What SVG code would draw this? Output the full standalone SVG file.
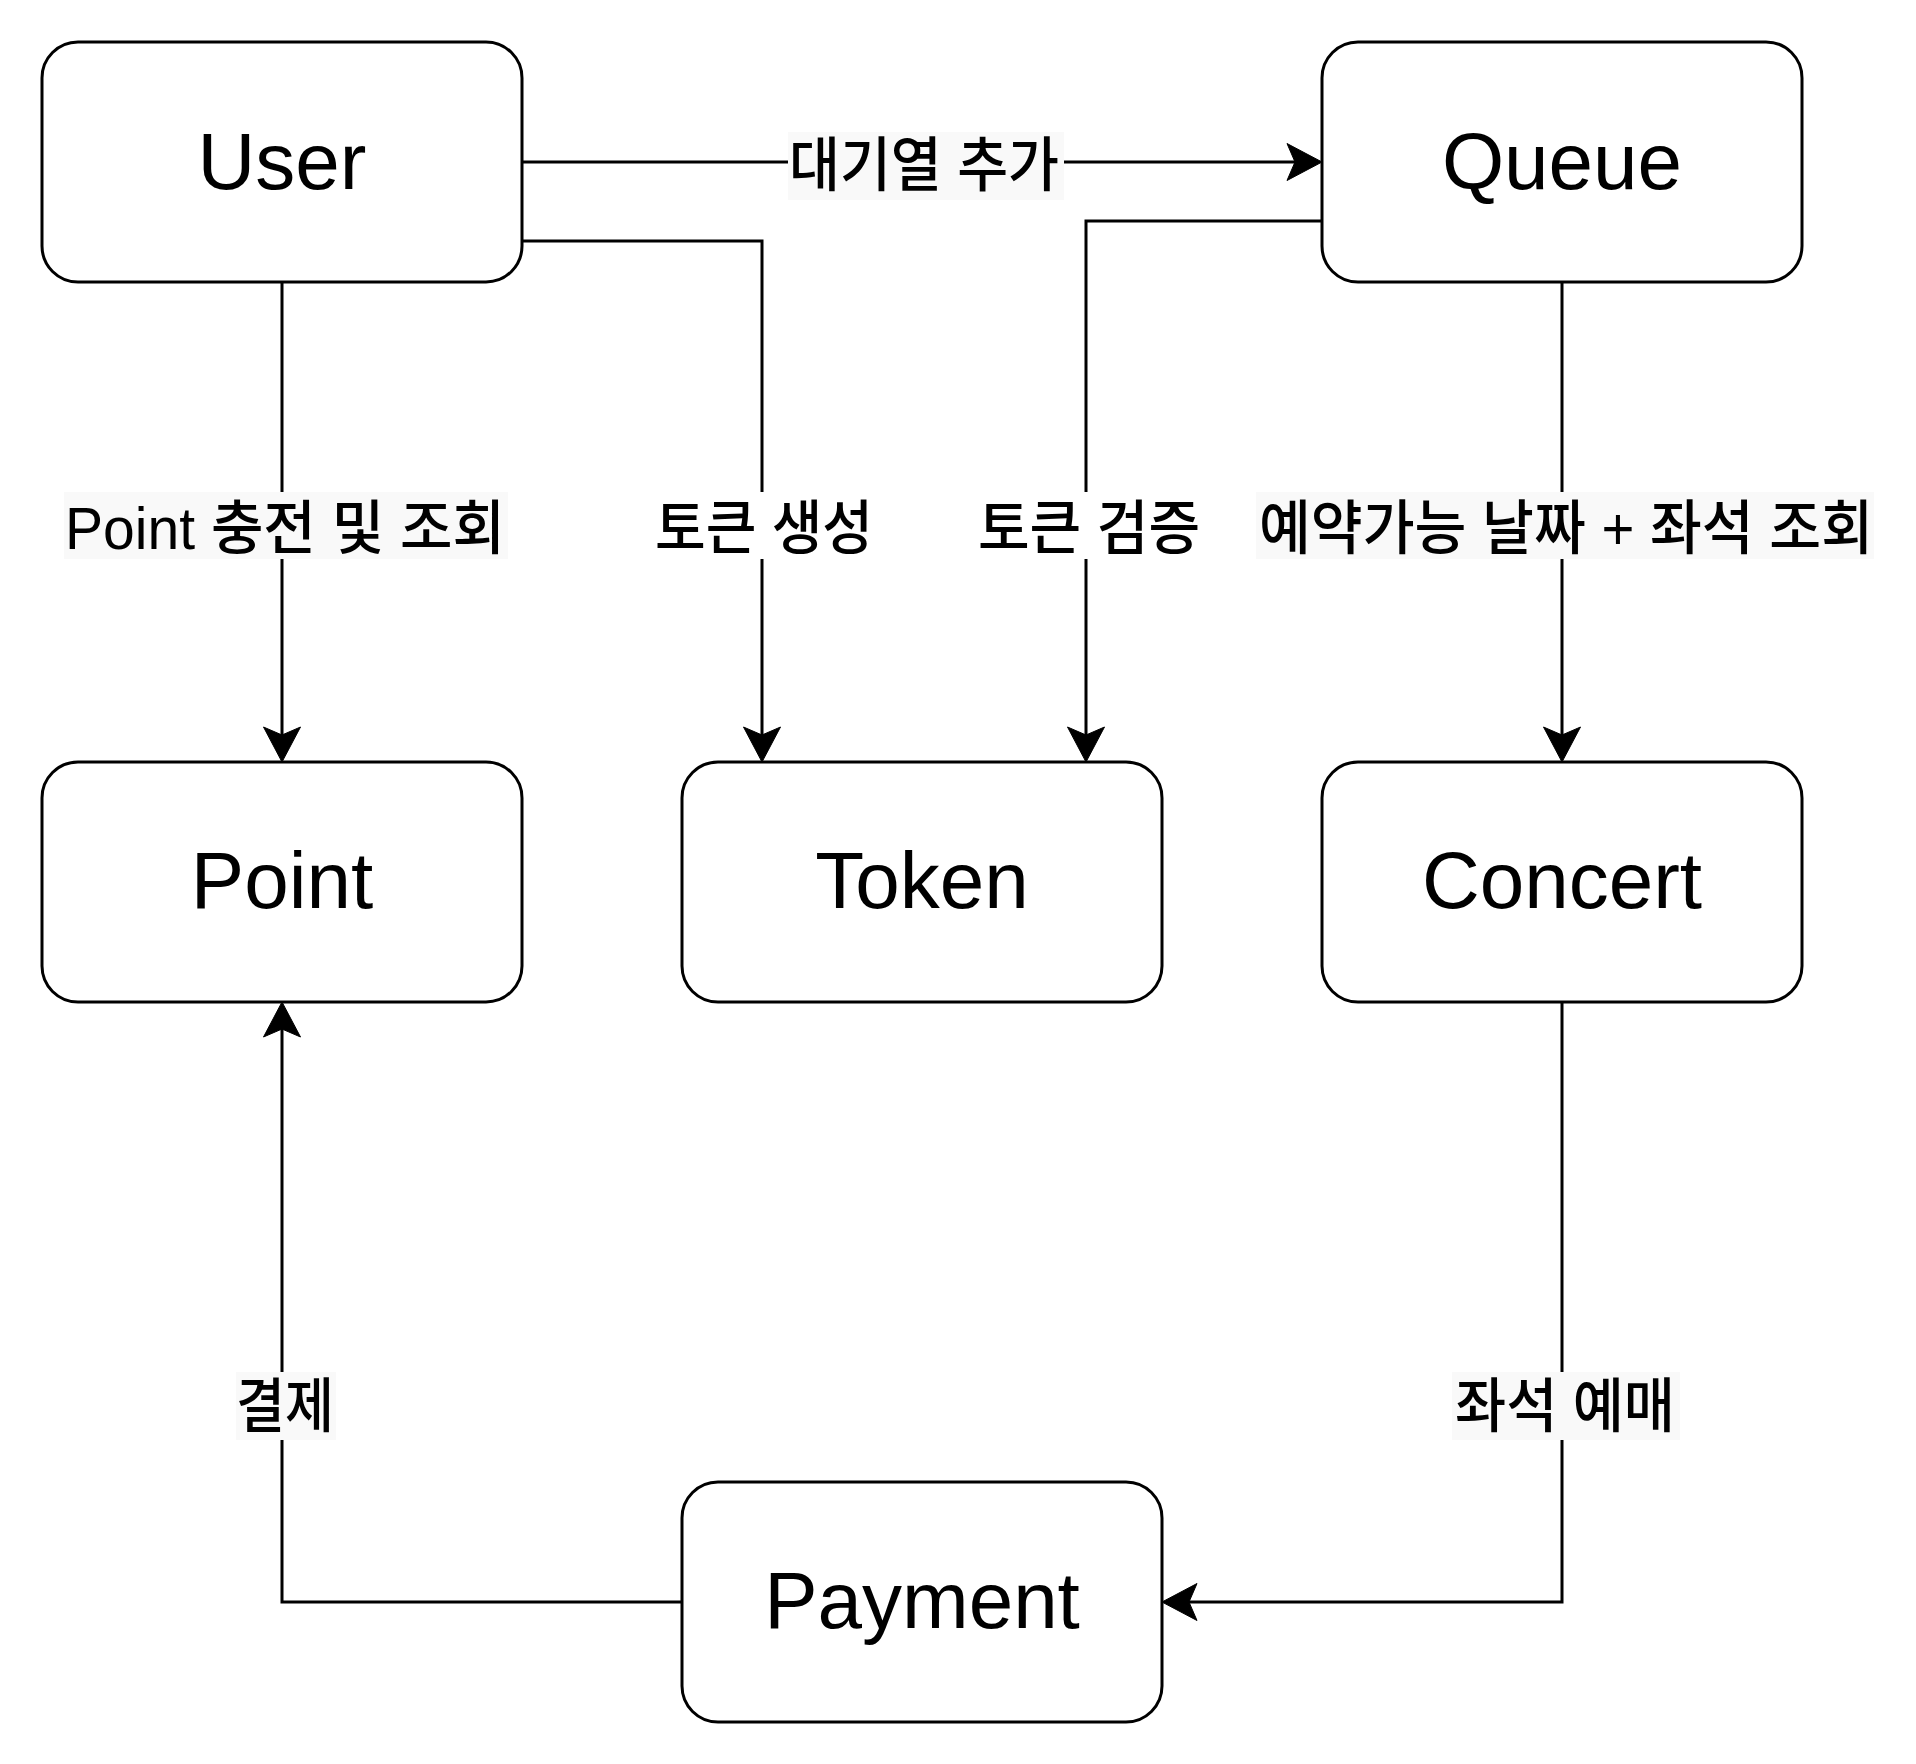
<svg xmlns="http://www.w3.org/2000/svg" width="1916" height="1764" viewBox="0 0 1916 1764">
<style>
.box{fill:#ffffff;stroke:#000000;stroke-width:3}
.ntxt{font-family:"Liberation Sans",Arial,Helvetica,sans-serif;font-size:80px;fill:#000000;text-anchor:middle}
.edge{fill:none;stroke:#000000;stroke-width:3}
.lbg{fill:#f9f9f9;stroke:none}
.lbgw{fill:#ffffff;stroke:none}
.ltxt{font-family:"Liberation Sans","Noto Sans CJK KR",sans-serif;font-size:59px;font-weight:500;fill:#000000;text-anchor:middle}
</style>
<defs>
<marker id="arrow" markerUnits="userSpaceOnUse" viewBox="-36 -20 38 40" refX="-20" refY="0" markerWidth="38" markerHeight="40" orient="auto" overflow="visible">
<path d="M0,0 L-35,-18.5 L-27,0 L-35,18.5 Z" fill="#000000" stroke="#000000" stroke-width="1"/>
</marker>
</defs>
<rect width="1916" height="1764" fill="#ffffff"/>
<g id="connectors">
<path class="edge" d="M522,162 H1302" marker-end="url(#arrow)"/>
<path class="edge" d="M522,241 H762 V742" marker-end="url(#arrow)"/>
<path class="edge" d="M282,282 V742" marker-end="url(#arrow)"/>
<path class="edge" d="M1322,221 H1086 V742" marker-end="url(#arrow)"/>
<path class="edge" d="M1562,282 V742" marker-end="url(#arrow)"/>
<path class="edge" d="M1562,1002 V1602 H1182" marker-end="url(#arrow)"/>
<path class="edge" d="M682,1602 H282 V1022" marker-end="url(#arrow)"/>
<g id="edge-labels">
<rect class="lbg" x="788" y="132" width="276" height="68"/>
<text class="ltxt" x="924" y="186" textLength="270" lengthAdjust="spacingAndGlyphs">대기열 추가</text>
<rect class="lbg" x="64" y="492" width="444" height="67"/>
<text class="ltxt" x="285" y="549" textLength="440" lengthAdjust="spacingAndGlyphs">Point 충전 및 조회</text>
<rect class="lbgw" x="654" y="492" width="219" height="67"/>
<text class="ltxt" x="764" y="549" textLength="218" lengthAdjust="spacingAndGlyphs">토큰 생성</text>
<rect class="lbgw" x="977" y="492" width="224" height="67"/>
<text class="ltxt" x="1089" y="549" textLength="222" lengthAdjust="spacingAndGlyphs">토큰 검증</text>
<rect class="lbg" x="1256" y="492" width="618" height="67"/>
<text class="ltxt" x="1566" y="549" textLength="614" lengthAdjust="spacingAndGlyphs">예약가능 날짜 + 좌석 조회</text>
<rect class="lbg" x="236" y="1372" width="100" height="68"/>
<text class="ltxt" x="285" y="1427" textLength="98" lengthAdjust="spacingAndGlyphs">결제</text>
<rect class="lbg" x="1452" y="1372" width="228" height="68"/>
<text class="ltxt" x="1565" y="1427" textLength="220" lengthAdjust="spacingAndGlyphs">좌석 예매</text>
</g>
</g>
<g id="node-user">
<rect class="box" x="42" y="42" width="480" height="240" rx="36" ry="36"/>
<text class="ntxt" x="282" y="189">User</text>
</g>
<g id="node-queue">
<rect class="box" x="1322" y="42" width="480" height="240" rx="36" ry="36"/>
<text class="ntxt" x="1562" y="189">Queue</text>
</g>
<g id="node-point">
<rect class="box" x="42" y="762" width="480" height="240" rx="36" ry="36"/>
<text class="ntxt" x="282" y="908">Point</text>
</g>
<g id="node-token">
<rect class="box" x="682" y="762" width="480" height="240" rx="36" ry="36"/>
<text class="ntxt" x="922" y="908">Token</text>
</g>
<g id="node-concert">
<rect class="box" x="1322" y="762" width="480" height="240" rx="36" ry="36"/>
<text class="ntxt" x="1562" y="908">Concert</text>
</g>
<g id="node-payment">
<rect class="box" x="682" y="1482" width="480" height="240" rx="36" ry="36"/>
<text class="ntxt" x="922" y="1628">Payment</text>
</g>
</svg>
